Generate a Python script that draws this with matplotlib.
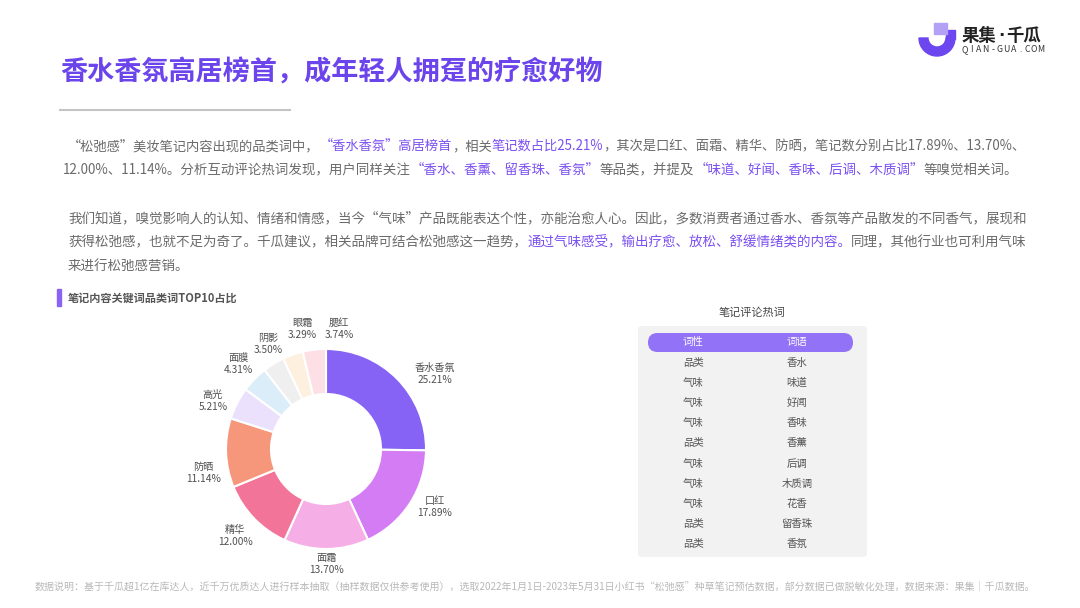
import numpy as np
import matplotlib.pyplot as plt
from matplotlib.patches import FancyBboxPatch, Wedge, Rectangle

plt.rcParams['font.family'] = ['Noto Sans CJK SC', 'DejaVu Sans']

# data
categories = ['香水香氛', '口红', '面霜', '精华', '防晒', '高光', '面膜', '阴影', '眼霜', '腮红']
shares = [25.21, 17.89, 13.70, 12.00, 11.14, 5.21, 4.31, 3.50, 3.29, 3.74]
slice_colors = ['#8663f5', '#d47cf3', '#f6aee6', '#f37499', '#f6977c',
                '#ebe1fc', '#dcedfa', '#efefef', '#fdf0df', '#fce0e5']

word_types = ['品类', '气味', '气味', '气味', '品类', '气味', '气味', '气味', '品类', '品类']
hot_words = ['香水', '味道', '好闻', '香味', '香薰', '后调', '木质调', '花香', '留香珠', '香氛']

GRAY = '#6b6b6b'
PURPLE = '#7b50f0'

title = '香水香氛高居榜首，成年轻人拥趸的疗愈好物'
para_lines = [
    [('“松弛感”美妆笔记内容出现的品类词中，', GRAY), ('“香水香氛”高居榜首', PURPLE), ('，相关', GRAY),
     ('笔记数占比25.21%', PURPLE), ('，其次是口红、面霜、精华、防晒，笔记数分别占比17.89%、13.70%、', GRAY)],
    [('12.00%、11.14%。分析互动评论热词发现，用户同样关注', GRAY), ('“香水、香薰、留香珠、香氛”', PURPLE),
     ('等品类，并提及', GRAY), ('“味道、好闻、香味、后调、木质调”', PURPLE), ('等嗅觉相关词。', GRAY)],
    [('我们知道，嗅觉影响人的认知、情绪和情感，当今“气味”产品既能表达个性，亦能治愈人心。因此，多数消费者通过香水、香氛等产品散发的不同香气，展现和', GRAY)],
    [('获得松弛感，也就不足为奇了。千瓜建议，相关品牌可结合松弛感这一趋势，', GRAY),
     ('通过气味感受，输出疗愈、放松、舒缓情绪类的内容。', PURPLE), ('同理，其他行业也可利用气味', GRAY)],
    [('来进行松弛感营销。', GRAY)],
]
footer = ('数据说明：基于千瓜超1亿在库达人，近千万优质达人进行样本抽取（抽样数据仅供参考使用），'
          '选取2022年1月1日-2023年5月31日小红书“松弛感”种草笔记预估数据，部分数据已做脱敏化处理，数据来源：果集｜千瓜数据。')

fig = plt.figure(figsize=(10.8, 6.08), dpi=100)
fig.patch.set_facecolor('white')
bg = fig.add_axes([0, 0, 1, 1])
bg.set_xlim(0, 1080)
bg.set_ylim(608, 0)
bg.axis('off')


def rich_line(x, y, parts, size, width=None):
    r = fig.canvas.get_renderer()
    texts = [bg.text(x, y, s, fontsize=size, color=c, va='center') for s, c in parts]
    ws = [t.get_window_extent(r).width for t in texts]
    if width:
        k = width / sum(ws)
        for t in texts:
            t.set_fontsize(size * k)
        ws = [t.get_window_extent(r).width for t in texts]
    xx = x
    for t, w in zip(texts, ws):
        t.set_x(xx)
        xx += w


# title + logo
bg.text(60, 72, title, fontsize=19.5, fontweight='bold', color='#6b45eb', va='center')
bg.plot([60, 290], [110, 110], color='#c4c4c4', lw=1.5)
bg.add_patch(Wedge((937, 38), 18, 0, 180, width=9, color='#6c47ef'))
bg.add_patch(Rectangle((946, 30), 9, 8.5, color='#6c47ef'))
bg.add_patch(Rectangle((934, 23), 13, 11, color='#b3a1f6'))
bg.text(962, 36, '果集', fontsize=12.5, fontweight='bold', color='#222', va='center')
bg.text(1001, 36, '·', fontsize=12, fontweight='bold', color='#222', ha='center', va='center',
        family='DejaVu Sans')
bg.text(1006, 36, '千瓜', fontsize=12.5, fontweight='bold', color='#222', va='center')
for i, ch in enumerate('QIAN-GUA.COM'):
    bg.text(965 + i * 6.9, 50, ch, fontsize=6.3, color='#333', ha='center', va='center')

# paragraphs
ys = [146, 170, 218, 242, 266]
widths = [960, None, 962, 962, None]
xs = [68, 63, 68, 68, 68]
for parts, y, w, x in zip(para_lines, ys, widths, xs):
    rich_line(x, y, parts, 9.7, w)

# section header
bg.add_patch(Rectangle((57, 289), 4, 17, color='#8a63f5'))
bg.text(68, 298, '笔记内容关键词品类词TOP10占比', fontsize=8, color='#555', va='center', fontweight='bold')

# donut
ax = fig.add_axes([196 / 1080, (608 - 449 - 130) / 608, 260 / 1080, 260 / 608])
labels = [f'{c}\n{v:.2f}%' for c, v in zip(categories, shares)]
wedges, texts = ax.pie(shares, colors=slice_colors, startangle=90, counterclock=False, radius=1,
                       labels=labels, labeldistance=1.22,
                       wedgeprops=dict(width=0.45, edgecolor='white', linewidth=1.5),
                       textprops=dict(fontsize=7.3, color='#505050', ha='center', va='center',
                                      linespacing=1.25))
ax.set_xlim(-1.3, 1.3)
ax.set_ylim(-1.3, 1.3)
ax.set_aspect('equal')

# spread the label positions a bit like the original
label_shift = [-10, 5, 0, 0, 9, 4, 0, -3, -8, -13]
label_r = [1.32, 1.23, 1.15, 1.26, 1.25, 1.23, 1.22, 1.2, 1.22, 1.21]
for w, t, s, r in zip(wedges, texts, label_shift, label_r):
    a = np.deg2rad((w.theta1 + w.theta2) / 2 + s)
    t.set_position((r * np.cos(a), r * np.sin(a)))

# hot words table
bg.text(752, 313, '笔记评论热词', ha='center', va='center', fontsize=8, color='#444')
bg.add_patch(FancyBboxPatch((638, 326), 229, 231, boxstyle='round,pad=0,rounding_size=4',
                            fc='#f2f2f2', ec='none'))
bg.add_patch(FancyBboxPatch((648, 333), 205, 19, boxstyle='round,pad=0,rounding_size=9.5',
                            fc='#9272f6', ec='none'))
bg.text(693, 342.5, '词性', ha='center', va='center', fontsize=7.5, color='white')
bg.text(797, 342.5, '词语', ha='center', va='center', fontsize=7.5, color='white')
for i, (a, b) in enumerate(zip(word_types, hot_words)):
    y = 363 + i * 20.1
    bg.text(693, y, a, ha='center', va='center', fontsize=7.5, color='#555')
    bg.text(797, y, b, ha='center', va='center', fontsize=7.5, color='#555')

# footer
rich_line(35, 588, [(footer, '#b8b8b8')], 6.8, 1005)

fig.savefig('out.png', dpi=100)
